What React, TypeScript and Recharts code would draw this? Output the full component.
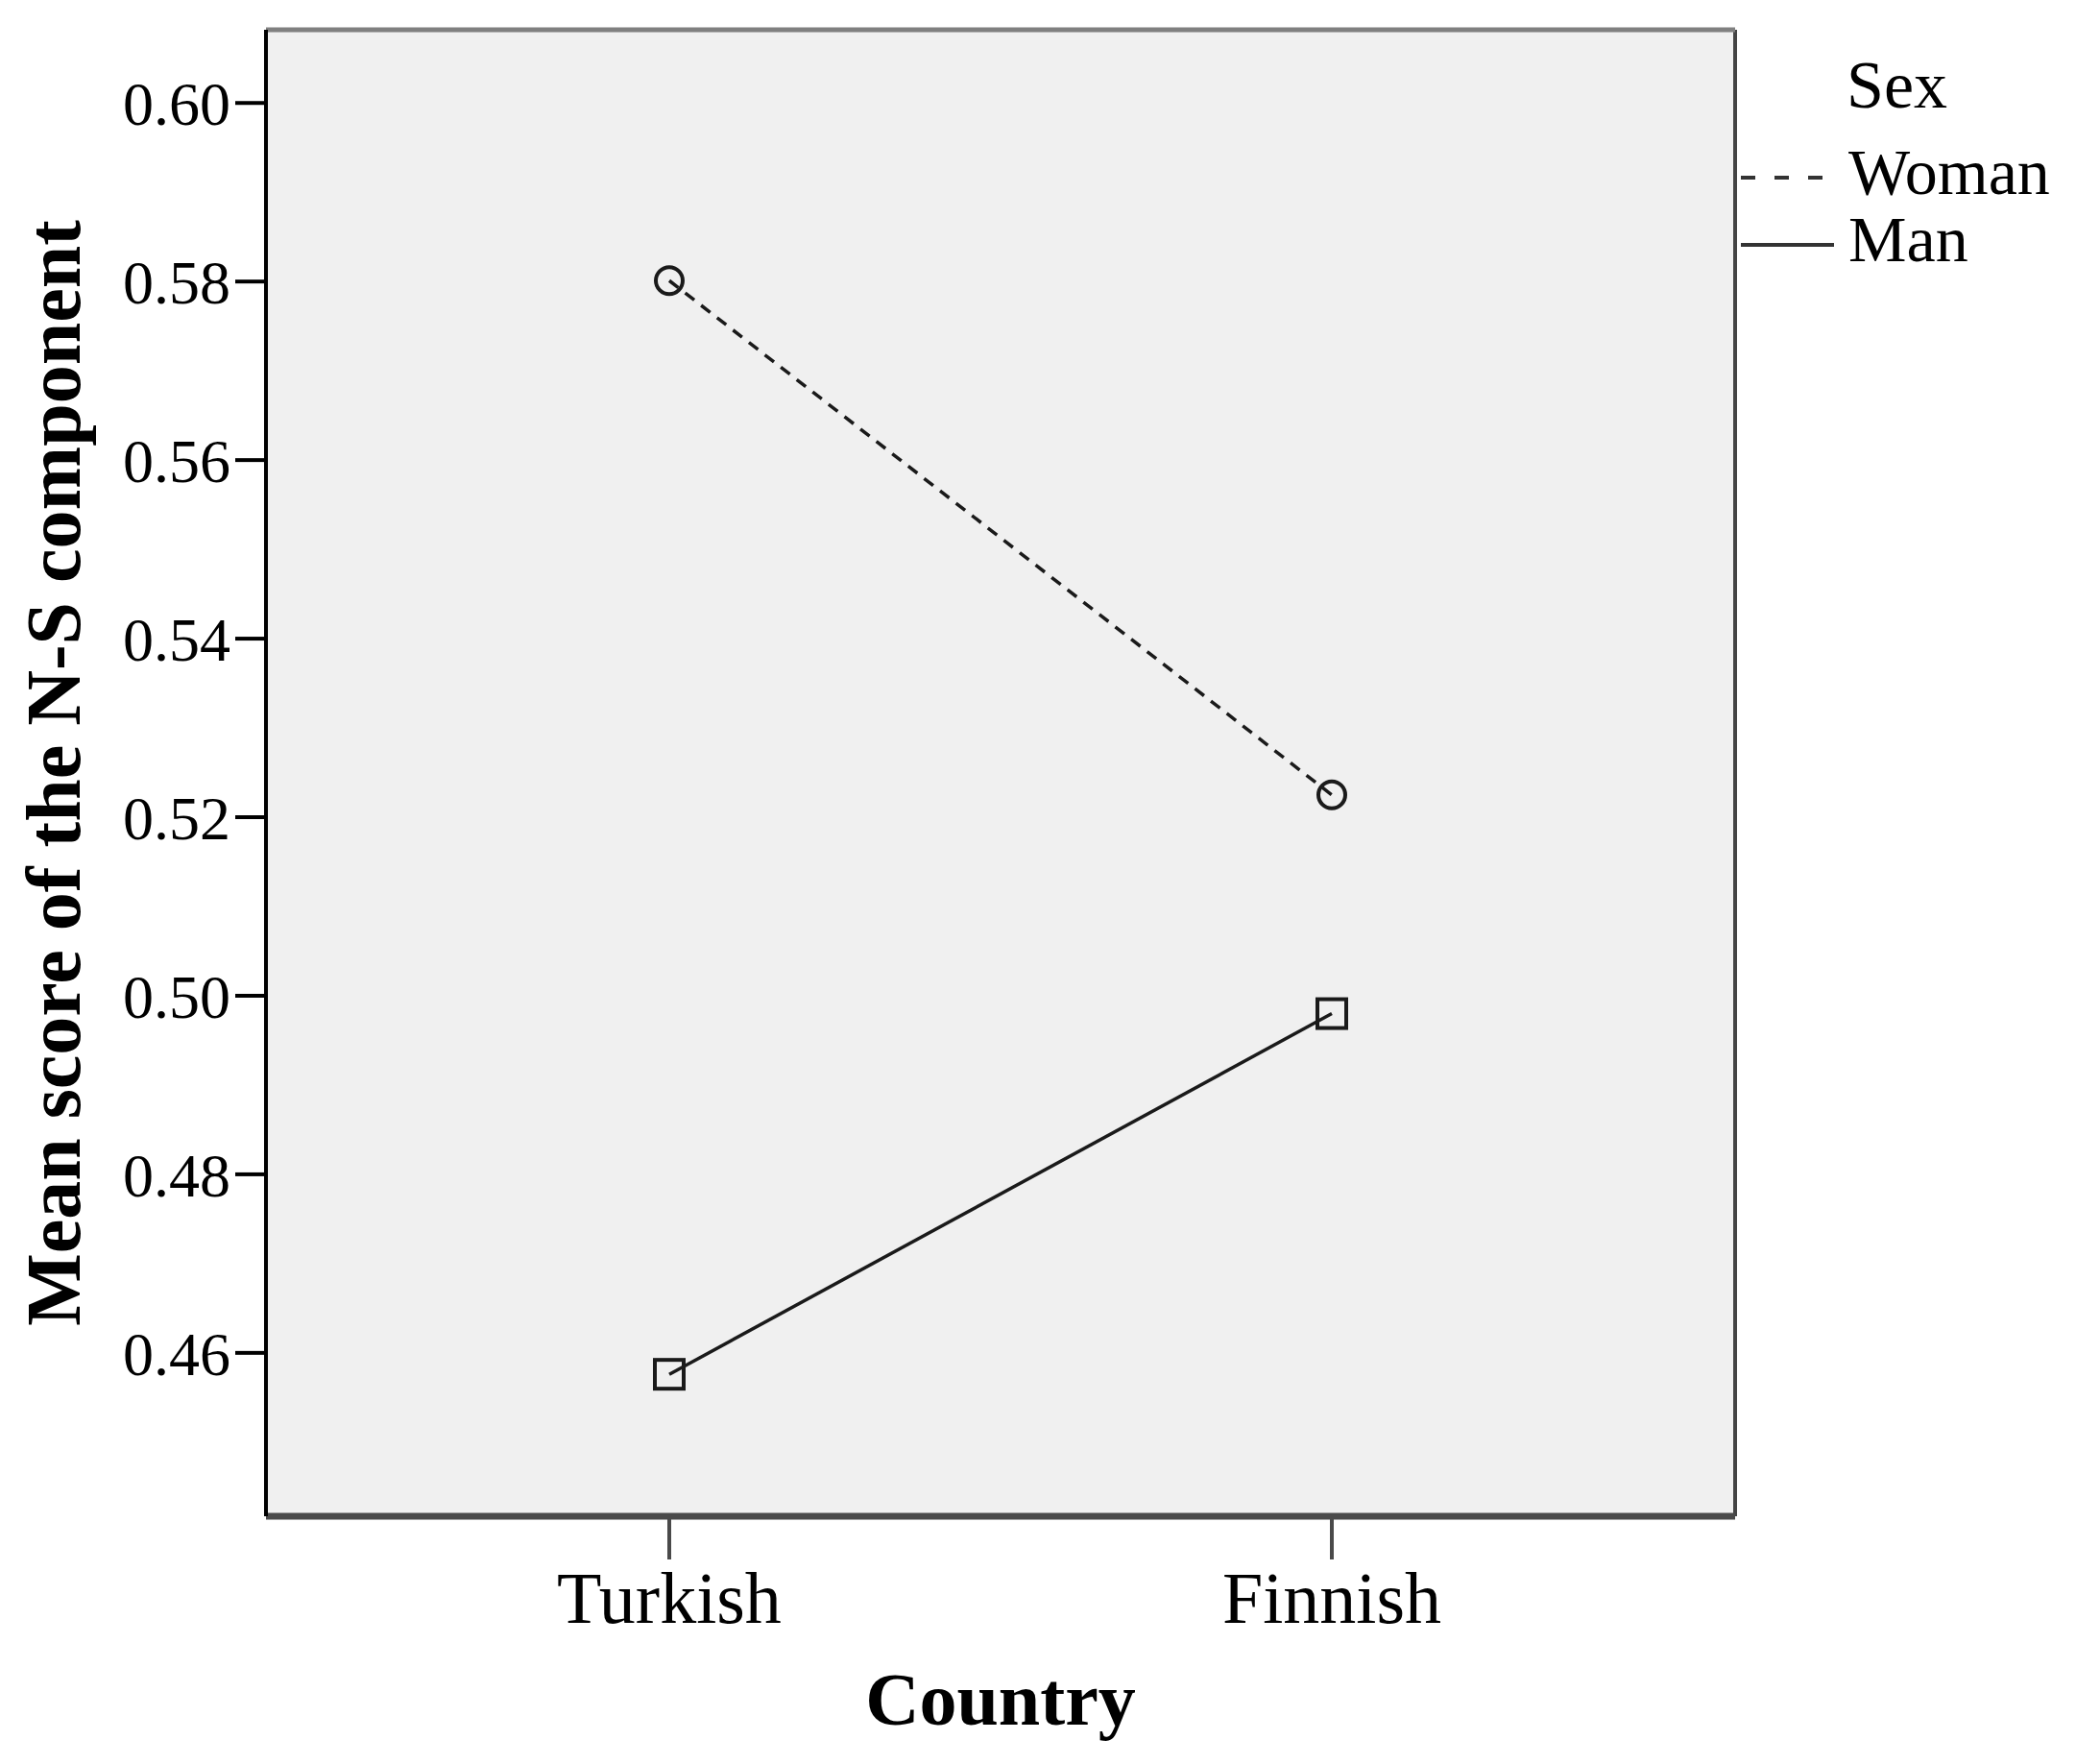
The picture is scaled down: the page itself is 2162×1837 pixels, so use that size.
import { LineChart, Line, XAxis, YAxis, CartesianGrid, Legend, ReferenceLine } from 'recharts';

const countries = ['Turkish', 'Finnish'];
const womanScores = [0.5801, 0.5225];
const manScores = [0.4576, 0.498];
const yTicks = [0.46, 0.48, 0.5, 0.52, 0.54, 0.56, 0.58, 0.6];
const yDomain = [0.4417, 0.6082];

const series = [
  { key: 'woman', name: 'Woman', dash: '12 9', legendDash: '15 20', legendLen: 88, marker: 'circle' },
  { key: 'man', name: 'Man', dash: undefined, legendDash: undefined, legendLen: 97, marker: 'square' },
];

const data = countries.map((country, i) => ({
  country,
  woman: womanScores[i],
  man: manScores[i],
}));

const FONT = '"Liberation Serif", "Times New Roman", serif';
const INK = '#1a1a1a';

function SquareDot(props: any) {
  const { cx, cy, index } = props;
  if (cx == null || cy == null) return null;
  return (
    <rect
      key={`sq-${index}`}
      x={cx - 15}
      y={cy - 15}
      width={30}
      height={30}
      fill="none"
      stroke={INK}
      strokeWidth={4}
    />
  );
}

function YTitle(props: any) {
  const vb = props.viewBox || { x: 0, y: 0, height: 0 };
  const x = vb.x + 83;
  const y = vb.y + vb.height / 2;
  return (
    <text
      x={x}
      y={y}
      transform={`rotate(-90, ${x}, ${y})`}
      textAnchor="middle"
      fontFamily={FONT}
      fontWeight="bold"
      fontSize={80}
      fill="#000"
    >
      Mean score of the N-S component
    </text>
  );
}

function XTitle(props: any) {
  const vb = props.viewBox || { x: 0, y: 0, width: 0 };
  return (
    <text
      x={vb.x + vb.width / 2}
      y={vb.y + 217}
      textAnchor="middle"
      fontFamily={FONT}
      fontWeight="bold"
      fontSize={78}
      fill="#000"
    >
      Country
    </text>
  );
}

function SexLegend(props: any) {
  const payload = props.payload || [];
  // keep the order of the series, not the sorted legend payload
  const rows = series.map((s) => {
    const entry = payload.find((p: any) => p.dataKey === s.key);
    return { ...s, label: entry ? entry.value : s.name };
  });
  return (
    <svg width={349} height={300} style={{ display: 'block' }}>
      <text x={110} y={112} fontFamily={FONT} fontSize={70} fill="#000">
        Sex
      </text>
      {rows.map((s, i) => {
        const ly = 185 + i * 70;
        return (
          <g key={s.key}>
            <line
              x1={0}
              y1={ly}
              x2={s.legendLen}
              y2={ly}
              stroke="#333"
              strokeWidth={4}
              strokeDasharray={s.legendDash}
            />
            <text x={112} y={ly + 17} fontFamily={FONT} fontSize={68} fill="#000">
              {s.label}
            </text>
          </g>
        );
      })}
    </svg>
  );
}

// right frame edge of the plot area
const rightEdge = (args: any) => [args.offset.left + args.offset.width];

export default function App() {
  return (
    <div style={{ position: 'absolute', left: 0, top: 0, background: 'white' }}>
      <LineChart
        width={2162}
        height={1837}
        data={data}
        margin={{ top: 31, right: 355, bottom: 138, left: 0 }}
      >
        <CartesianGrid
          fill="#f0f0f0"
          horizontal={false}
          vertical
          verticalCoordinatesGenerator={rightEdge}
          stroke="#444"
          strokeWidth={4}
        />
        <ReferenceLine y={yDomain[1]} stroke="#808080" strokeWidth={5} />
        <XAxis
          dataKey="country"
          type="category"
          scale="point"
          padding={{ left: 420, right: 420 }}
          height={120}
          axisLine={{ stroke: '#4a4a4a', strokeWidth: 7 }}
          tickLine={{ stroke: '#4a4a4a', strokeWidth: 4 }}
          tickSize={45}
          tickMargin={12}
          tick={{ fill: '#000', fontSize: 76, fontFamily: FONT }}
          label={<XTitle />}
        />
        <YAxis
          type="number"
          domain={yDomain}
          allowDataOverflow
          ticks={yTicks}
          interval={0}
          width={277}
          tickFormatter={(v: number) => v.toFixed(2)}
          axisLine={{ stroke: '#000', strokeWidth: 4 }}
          tickLine={{ stroke: '#000', strokeWidth: 4 }}
          tickSize={32}
          tickMargin={5}
          tick={{ fill: '#000', fontSize: 64, fontFamily: FONT }}
          label={<YTitle />}
        />
        <Legend
          layout="vertical"
          align="center"
          verticalAlign="middle"
          wrapperStyle={{ left: 1813, top: 0, width: 349 }}
          content={<SexLegend />}
        />
        {series.map((s) =>
          s.marker === 'circle' ? (
            <Line
              key={s.key}
              dataKey={s.key}
              name={s.name}
              type="linear"
              stroke={INK}
              strokeWidth={3.5}
              strokeDasharray={s.dash}
              dot={{ r: 14, fill: 'none', stroke: INK, strokeWidth: 4, strokeDasharray: 'none' }}
              activeDot={false}
              isAnimationActive={false}
            />
          ) : (
            <Line
              key={s.key}
              dataKey={s.key}
              name={s.name}
              type="linear"
              stroke={INK}
              strokeWidth={3.5}
              dot={<SquareDot />}
              activeDot={false}
              isAnimationActive={false}
            />
          )
        )}
      </LineChart>
    </div>
  );
}
